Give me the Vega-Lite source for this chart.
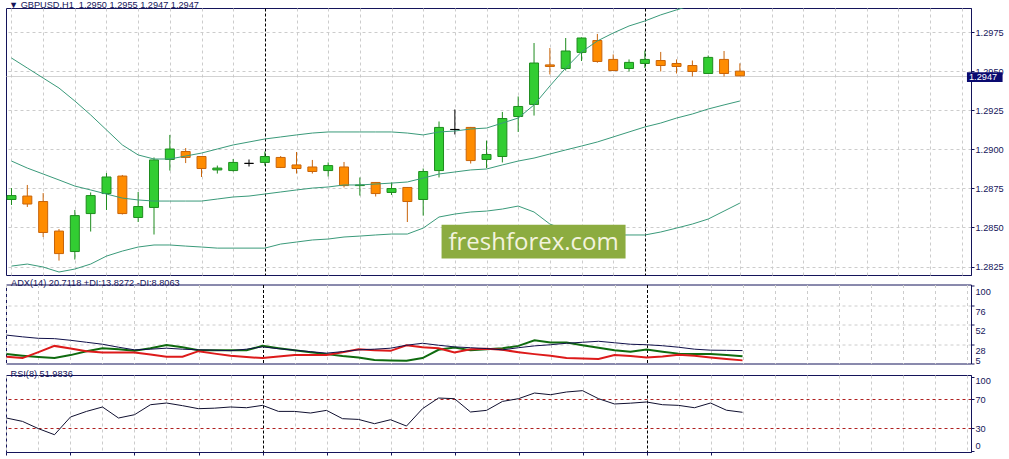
{
"$schema": "https://vega.github.io/schema/vega-lite/v6.json",
"padding": {"left": 5, "top": 0, "right": 0, "bottom": 0},
"background": "#ffffff",
"spacing": 2.5,
"resolve": {"scale": {"x": "independent", "y": "independent"}},
"config": {
  "font": "Liberation Sans",
  "view": {"stroke": "#14145a", "strokeWidth": 1},
  "axis": {"labelFont": "Liberation Sans", "labelFontSize": 9.2, "labelColor": "#14145a", "tickColor": "#14145a", "domainColor": "#14145a", "tickSize": 3, "gridWidth": 1},
  "title": {"font": "Liberation Sans", "fontSize": 9.2, "fontWeight": "normal", "color": "#14145a", "anchor": "start", "baseline": "bottom", "offset": 0}
},
"datasets": {"bars": [
{"k":0,"t":"21 Jan 08:00","o":1.28679,"h":1.28752,"l":1.28644,"c":1.28704,"bu":1.29584,"bm":1.28925,"bl":1.28253,"adx":39.5,"pdi":16.4,"mdi":13.2,"rsi":44.2},
{"k":1,"t":"21 Jan 09:00","o":1.28701,"h":1.28772,"l":1.28631,"c":1.28650,"bu":1.29520,"bm":1.28880,"bl":1.28266,"adx":37.4,"pdi":14.4,"mdi":11.6,"rsi":39.6},
{"k":2,"t":"21 Jan 10:00","o":1.28666,"h":1.28720,"l":1.28439,"c":1.28468,"bu":1.29456,"bm":1.28842,"bl":1.28247,"adx":35.6,"pdi":12.8,"mdi":18.8,"rsi":29.7},
{"k":3,"t":"21 Jan 11:00","o":1.28477,"h":1.28490,"l":1.28288,"c":1.28333,"bu":1.29392,"bm":1.28804,"bl":1.28215,"adx":35.2,"pdi":11.6,"mdi":26.4,"rsi":21.5},
{"k":4,"t":"21 Jan 12:00","o":1.28346,"h":1.28612,"l":1.28295,"c":1.28576,"bu":1.29309,"bm":1.28765,"bl":1.28234,"adx":33.2,"pdi":15.2,"mdi":23.2,"rsi":45.6},
{"k":5,"t":"21 Jan 13:00","o":1.28589,"h":1.28724,"l":1.28474,"c":1.28704,"bu":1.29220,"bm":1.28740,"bl":1.28266,"adx":30.8,"pdi":20.0,"mdi":20.0,"rsi":53.2},
{"k":6,"t":"21 Jan 14:00","o":1.28717,"h":1.28848,"l":1.28612,"c":1.28823,"bu":1.29124,"bm":1.28714,"bl":1.28317,"adx":28.4,"pdi":23.6,"mdi":18.4,"rsi":59.2},
{"k":7,"t":"21 Jan 15:00","o":1.28829,"h":1.28836,"l":1.28583,"c":1.28589,"bu":1.29028,"bm":1.28688,"bl":1.28349,"adx":24.8,"pdi":22.4,"mdi":18.4,"rsi":44.2},
{"k":8,"t":"21 Jan 16:00","o":1.28564,"h":1.28727,"l":1.28535,"c":1.28634,"bu":1.28964,"bm":1.28676,"bl":1.28375,"adx":21.6,"pdi":20.4,"mdi":18.4,"rsi":48.7},
{"k":9,"t":"21 Jan 17:00","o":1.28628,"h":1.28948,"l":1.28455,"c":1.28932,"bu":1.28938,"bm":1.28669,"bl":1.28388,"adx":22.4,"pdi":23.6,"mdi":15.8,"rsi":62.3},
{"k":10,"t":"21 Jan 18:00","o":1.28935,"h":1.29092,"l":1.28864,"c":1.29002,"bu":1.28938,"bm":1.28669,"bl":1.28388,"adx":23.6,"pdi":27.6,"mdi":13.2,"rsi":64.6},
{"k":11,"t":"21 Jan 19:00","o":1.28986,"h":1.29008,"l":1.28912,"c":1.28948,"bu":1.28957,"bm":1.28669,"bl":1.28381,"adx":22.4,"pdi":24.8,"mdi":13.2,"rsi":61.0},
{"k":12,"t":"21 Jan 20:00","o":1.28954,"h":1.28957,"l":1.28823,"c":1.28877,"bu":1.28976,"bm":1.28669,"bl":1.28375,"adx":21.6,"pdi":21.2,"mdi":20.0,"rsi":56.9},
{"k":13,"t":"21 Jan 21:00","o":1.28868,"h":1.28896,"l":1.28845,"c":1.28880,"bu":1.29002,"bm":1.28682,"bl":1.28368,"adx":21.2,"pdi":21.2,"mdi":17.0,"rsi":57.6},
{"k":14,"t":"21 Jan 22:00","o":1.28864,"h":1.28938,"l":1.28858,"c":1.28916,"bu":1.29028,"bm":1.28695,"bl":1.28368,"adx":20.6,"pdi":21.2,"mdi":14.4,"rsi":59.2},
{"k":15,"t":"21 Jan 23:00","o":1.28910,"h":1.28935,"l":1.28890,"c":1.28910,"bu":1.29047,"bm":1.28701,"bl":1.28368,"adx":22.4,"pdi":21.2,"mdi":12.8,"rsi":58.2},
{"k":16,"t":"22 Jan 00:00","o":1.28916,"h":1.28986,"l":1.28896,"c":1.28954,"bu":1.29066,"bm":1.28714,"bl":1.28368,"adx":25.2,"pdi":26.4,"mdi":11.6,"rsi":61.4},
{"k":17,"t":"22 Jan 01:00","o":1.28948,"h":1.28957,"l":1.28880,"c":1.28884,"bu":1.29079,"bm":1.28727,"bl":1.28394,"adx":23.0,"pdi":23.6,"mdi":13.4,"rsi":53.2},
{"k":18,"t":"22 Jan 02:00","o":1.28900,"h":1.28983,"l":1.28845,"c":1.28877,"bu":1.29092,"bm":1.28740,"bl":1.28407,"adx":21.2,"pdi":21.2,"mdi":15.2,"rsi":53.2},
{"k":19,"t":"22 Jan 03:00","o":1.28887,"h":1.28932,"l":1.28845,"c":1.28858,"bu":1.29104,"bm":1.28752,"bl":1.28420,"adx":19.4,"pdi":18.8,"mdi":15.2,"rsi":51.0},
{"k":20,"t":"22 Jan 04:00","o":1.28864,"h":1.28916,"l":1.28826,"c":1.28896,"bu":1.29111,"bm":1.28759,"bl":1.28426,"adx":17.6,"pdi":16.4,"mdi":15.2,"rsi":54.6},
{"k":21,"t":"22 Jan 05:00","o":1.28887,"h":1.28919,"l":1.28756,"c":1.28768,"bu":1.29111,"bm":1.28772,"bl":1.28439,"adx":19.4,"pdi":14.0,"mdi":18.8,"rsi":43.3},
{"k":22,"t":"22 Jan 06:00","o":1.28768,"h":1.28820,"l":1.28704,"c":1.28772,"bu":1.29111,"bm":1.28772,"bl":1.28445,"adx":21.6,"pdi":12.2,"mdi":22.4,"rsi":42.3},
{"k":23,"t":"22 Jan 07:00","o":1.28788,"h":1.28791,"l":1.28698,"c":1.28717,"bu":1.29111,"bm":1.28778,"bl":1.28452,"adx":22.4,"pdi":9.2,"mdi":21.2,"rsi":36.5},
{"k":24,"t":"22 Jan 08:00","o":1.28724,"h":1.28788,"l":1.28708,"c":1.28749,"bu":1.29111,"bm":1.28784,"bl":1.28458,"adx":23.6,"pdi":8.6,"mdi":20.4,"rsi":41.9},
{"k":25,"t":"22 Jan 09:00","o":1.28756,"h":1.28759,"l":1.28535,"c":1.28666,"bu":1.29104,"bm":1.28791,"bl":1.28458,"adx":27.2,"pdi":8.4,"mdi":27.2,"rsi":33.3},
{"k":26,"t":"22 Jan 10:00","o":1.28679,"h":1.28877,"l":1.28576,"c":1.28858,"bu":1.29092,"bm":1.28816,"bl":1.28496,"adx":29.6,"pdi":11.6,"mdi":24.8,"rsi":56.9},
{"k":27,"t":"22 Jan 11:00","o":1.28864,"h":1.29178,"l":1.28820,"c":1.29140,"bu":1.29111,"bm":1.28842,"bl":1.28567,"adx":27.2,"pdi":21.6,"mdi":23.6,"rsi":71.4},
{"k":28,"t":"22 Jan 12:00","o":1.29127,"h":1.29255,"l":1.29095,"c":1.29127,"bu":1.29117,"bm":1.28855,"bl":1.28586,"adx":25.2,"pdi":24.4,"mdi":18.4,"rsi":70.5},
{"k":29,"t":"22 Jan 13:00","o":1.29140,"h":1.29143,"l":1.28909,"c":1.28928,"bu":1.29130,"bm":1.28868,"bl":1.28599,"adx":24.2,"pdi":21.2,"mdi":22.4,"rsi":52.4},
{"k":30,"t":"22 Jan 14:00","o":1.28935,"h":1.29056,"l":1.28880,"c":1.28967,"bu":1.29136,"bm":1.28874,"bl":1.28605,"adx":23.2,"pdi":22.4,"mdi":23.0,"rsi":54.6},
{"k":31,"t":"22 Jan 15:00","o":1.28954,"h":1.29239,"l":1.28916,"c":1.29197,"bu":1.29168,"bm":1.28900,"bl":1.28618,"adx":21.6,"pdi":23.6,"mdi":21.6,"rsi":66.8},
{"k":32,"t":"22 Jan 16:00","o":1.29210,"h":1.29338,"l":1.29111,"c":1.29274,"bu":1.29200,"bm":1.28925,"bl":1.28637,"adx":24.2,"pdi":26.4,"mdi":18.8,"rsi":70.5},
{"k":33,"t":"22 Jan 17:00","o":1.29287,"h":1.29680,"l":1.29216,"c":1.29552,"bu":1.29284,"bm":1.28944,"bl":1.28599,"adx":26.4,"pdi":33.2,"mdi":16.4,"rsi":78.2},
{"k":34,"t":"22 Jan 18:00","o":1.29540,"h":1.29648,"l":1.29479,"c":1.29530,"bu":1.29405,"bm":1.28970,"bl":1.28522,"adx":27.8,"pdi":30.4,"mdi":14.4,"rsi":75.9},
{"k":35,"t":"22 Jan 19:00","o":1.29517,"h":1.29712,"l":1.29504,"c":1.29629,"bu":1.29520,"bm":1.28996,"bl":1.28484,"adx":29.6,"pdi":30.4,"mdi":11.6,"rsi":79.6},
{"k":36,"t":"22 Jan 20:00","o":1.29620,"h":1.29716,"l":1.29565,"c":1.29712,"bu":1.29623,"bm":1.29021,"bl":1.28458,"adx":30.8,"pdi":27.2,"mdi":11.0,"rsi":81.4},
{"k":37,"t":"22 Jan 21:00","o":1.29696,"h":1.29738,"l":1.29554,"c":1.29562,"bu":1.29693,"bm":1.29047,"bl":1.28452,"adx":32.0,"pdi":24.2,"mdi":10.4,"rsi":70.5},
{"k":38,"t":"22 Jan 22:00","o":1.29575,"h":1.29607,"l":1.29504,"c":1.29504,"bu":1.29744,"bm":1.29079,"bl":1.28452,"adx":30.2,"pdi":21.2,"mdi":15.2,"rsi":63.3},
{"k":39,"t":"22 Jan 23:00","o":1.29517,"h":1.29575,"l":1.29498,"c":1.29556,"bu":1.29789,"bm":1.29111,"bl":1.28452,"adx":28.4,"pdi":19.2,"mdi":14.0,"rsi":64.4},
{"k":40,"t":"23 Jan 00:00","o":1.29549,"h":1.29632,"l":1.29520,"c":1.29575,"bu":1.29821,"bm":1.29143,"bl":1.28452,"adx":27.8,"pdi":22.0,"mdi":12.4,"rsi":66.0},
{"k":41,"t":"23 Jan 01:00","o":1.29568,"h":1.29623,"l":1.29498,"c":1.29536,"bu":1.29860,"bm":1.29168,"bl":1.28471,"adx":26.6,"pdi":19.4,"mdi":13.4,"rsi":62.3},
{"k":42,"t":"23 Jan 02:00","o":1.29549,"h":1.29575,"l":1.29485,"c":1.29530,"bu":1.29892,"bm":1.29200,"bl":1.28496,"adx":24.8,"pdi":17.0,"mdi":15.6,"rsi":61.4},
{"k":43,"t":"23 Jan 03:00","o":1.29536,"h":1.29568,"l":1.29466,"c":1.29498,"bu":1.29924,"bm":1.29226,"bl":1.28522,"adx":22.4,"pdi":16.4,"mdi":14.4,"rsi":58.2},
{"k":44,"t":"23 Jan 04:00","o":1.29485,"h":1.29600,"l":1.29485,"c":1.29588,"bu":1.29956,"bm":1.29258,"bl":1.28554,"adx":21.2,"pdi":16.4,"mdi":12.4,"rsi":64.6},
{"k":45,"t":"23 Jan 05:00","o":1.29575,"h":1.29629,"l":1.29466,"c":1.29485,"bu":1.29981,"bm":1.29284,"bl":1.28605,"adx":21.0,"pdi":15.2,"mdi":10.5,"rsi":54.8},
{"k":46,"t":"23 Jan 06:00","o":1.2950,"h":1.2955,"l":1.2947,"c":1.2947,"bu":1.30007,"bm":1.29309,"bl":1.28656,"adx":20.7,"pdi":13.8,"mdi":8.8,"rsi":52.0}
]},
"vconcat": [
{
  "width": 965, "height": 267,
  "data": {"name": "bars"},
  "title": {"text": "▼ GBPUSD,H1\u00a0 1.2950 1.2955 1.2947 1.2947", "offset": 0, "dx": 3, "dy": 11, "baseline": "bottom"},
  "layer": [
    {"transform": [{"filter": "datum.c > datum.o"}],
     "mark": {"type": "rule", "color": "#1e8c1e", "strokeWidth": 1, "clip": true},
     "encoding": {
       "x": {"field": "k", "type": "quantitative", "title": null,
             "scale": {"domain": [-0.031, 60.28], "nice": false, "zero": false},
             "axis": {"orient": "bottom", "labels": false, "ticks": false, "domain": false, "grid": true, "tickCount": 100,
                      "values": [0,2,4,6,8,10,12,14,16,18,20,22,24,26,28,30,32,34,36,38,40,42,44,46,48,50,52,54,56,58,60],
                      "gridColor": {"condition": {"test": "(datum.value + 8) % 24 == 0", "value": "#000000"}, "value": "#cccccc"},
                      "gridDash": {"condition": {"test": "(datum.value + 8) % 24 == 0", "value": [3,2]}, "value": [3,3]}}},
       "y": {"field": "l", "type": "quantitative", "title": null,
             "scale": {"domain": [1.28196, 1.29904], "nice": false, "zero": false},
             "axis": {"orient": "right", "values": [1.2825, 1.285, 1.2875, 1.29, 1.2925, 1.2947, 1.295, 1.2975], "tickCount": 100, "format": ".4f", "grid": true,
                      "gridColor": {"condition": {"test": "datum.value == 1.2947", "value": "#c4c4c4"}, "value": "#cccccc"},
                      "gridDash": {"condition": {"test": "datum.value == 1.2947", "value": [1,0]}, "value": [3,3]},
                      "tickOpacity": {"condition": {"test": "datum.value == 1.2947", "value": 0}, "value": 1},
                      "labelOpacity": {"condition": {"test": "datum.value == 1.2947", "value": 0}, "value": 1},
                      "labelPadding": 1, "labelOverlap": false}},
       "y2": {"field": "h"}
     }},
    {"transform": [{"filter": "datum.c < datum.o"}],
     "mark": {"type": "rule", "color": "#c8640a", "strokeWidth": 1, "clip": true},
     "encoding": {"x": {"field": "k", "type": "quantitative", "title": null}, "y": {"field": "l", "type": "quantitative", "title": null}, "y2": {"field": "h"}}},
    {"transform": [{"filter": "datum.c == datum.o"}],
     "mark": {"type": "rule", "color": "#000000", "strokeWidth": 1, "clip": true},
     "encoding": {"x": {"field": "k", "type": "quantitative", "title": null}, "y": {"field": "l", "type": "quantitative", "title": null}, "y2": {"field": "h"}}},
    {"transform": [{"filter": "datum.c > datum.o"}],
     "mark": {"type": "bar", "size": 9, "fill": "#32cd32", "stroke": "#1e8c1e", "strokeWidth": 1, "clip": true},
     "encoding": {"x": {"field": "k", "type": "quantitative", "title": null}, "y": {"field": "o", "type": "quantitative", "title": null}, "y2": {"field": "c"}}},
    {"transform": [{"filter": "datum.c < datum.o"}],
     "mark": {"type": "bar", "size": 9, "fill": "#ff8c00", "stroke": "#c8640a", "strokeWidth": 1, "clip": true},
     "encoding": {"x": {"field": "k", "type": "quantitative", "title": null}, "y": {"field": "o", "type": "quantitative", "title": null}, "y2": {"field": "c"}}},
    {"transform": [{"filter": "datum.c == datum.o"}],
     "mark": {"type": "bar", "size": 9, "fill": "#000000", "stroke": "#000000", "strokeWidth": 1, "clip": true},
     "encoding": {"x": {"field": "k", "type": "quantitative", "title": null}, "y": {"field": "o", "type": "quantitative", "title": null}, "y2": {"field": "c"}}},
    {"mark": {"type": "line", "color": "#3a9a7a", "strokeWidth": 1, "clip": true},
     "encoding": {"x": {"field": "k", "type": "quantitative", "title": null}, "y": {"field": "bu", "type": "quantitative", "title": null}}},
    {"mark": {"type": "line", "color": "#3a9a7a", "strokeWidth": 1, "clip": true},
     "encoding": {"x": {"field": "k", "type": "quantitative", "title": null}, "y": {"field": "bm", "type": "quantitative", "title": null}}},
    {"mark": {"type": "line", "color": "#3a9a7a", "strokeWidth": 1, "clip": true},
     "encoding": {"x": {"field": "k", "type": "quantitative", "title": null}, "y": {"field": "bl", "type": "quantitative", "title": null}}},
    {"data": {"values": [{"label": "freshforex.com"}]},
     "mark": {"type": "rect", "color": "#8cac40"},
     "encoding": {
       "x": {"datum": 27.16, "type": "quantitative", "title": null},
       "x2": {"datum": 38.78},
       "y": {"datum": 1.28517, "type": "quantitative", "title": null},
       "y2": {"datum": 1.28301}
     }},
    {"data": {"values": [{"label": "freshforex.com"}]},
     "mark": {"type": "text", "font": "Open Sans", "fontSize": 24, "align": "center", "baseline": "alphabetic", "color": "#f3f3de"},
     "encoding": {
       "x": {"datum": 32.97, "type": "quantitative", "title": null},
       "y": {"datum": 1.28359, "type": "quantitative", "title": null},
       "text": {"field": "label"}
     }},
    {"data": {"values": [{"price": "1.2947"}]},
     "mark": {"type": "rect", "color": "#0a0a70"},
     "encoding": {
       "x": {"datum": 60.34, "type": "quantitative", "title": null},
       "x2": {"datum": 62.59},
       "y": {"datum": 1.29493, "type": "quantitative", "title": null},
       "y2": {"datum": 1.29431}
     }},
    {"data": {"values": [{"price": "1.2947"}]},
     "mark": {"type": "text", "font": "Liberation Sans", "fontSize": 9.2, "align": "left", "baseline": "middle", "color": "#ffffff"},
     "encoding": {
       "x": {"datum": 60.47, "type": "quantitative", "title": null},
       "y": {"datum": 1.2946, "type": "quantitative", "title": null},
       "text": {"field": "price"}
     }}
  ]
},
{
  "width": 965, "height": 79,
  "data": {"name": "bars"},
  "title": {"text": "ADX(14) 20.7118 +DI:13.8272 -DI:8.8063", "offset": 0, "dx": 5, "dy": 13, "baseline": "bottom"},
  "layer": [
    {"mark": {"type": "line", "color": "#0f6b0f", "strokeWidth": 2, "clip": true},
     "encoding": {
       "x": {"field": "k", "type": "quantitative", "title": null,
             "scale": {"domain": [-0.031, 60.28], "nice": false, "zero": false},
             "axis": {"orient": "bottom", "labels": false, "ticks": false, "domain": false, "grid": true, "tickCount": 100,
                      "values": [0,2,4,6,8,10,12,14,16,18,20,22,24,26,28,30,32,34,36,38,40,42,44,46,48,50,52,54,56,58,60],
                      "gridColor": {"condition": {"test": "(datum.value + 8) % 24 == 0", "value": "#000000"}, "value": "#cccccc"},
                      "gridDash": {"condition": {"test": "(datum.value + 8) % 24 == 0", "value": [3,2]}, "value": [3,3]}}},
       "y": {"field": "pdi", "type": "quantitative", "title": null,
             "scale": {"domain": [5, 101], "nice": false, "zero": false},
             "axis": {"orient": "right", "values": [5, 28, 52, 76, 100], "tickCount": 100, "grid": true, "gridDash": [3,3], "gridColor": "#cccccc",
                      "gridOpacity": {"condition": {"test": "datum.value == 100 || datum.value == 5", "value": 0}, "value": 1},
                      "labelBaseline": {"condition": {"test": "datum.value == 5", "value": "bottom"}, "value": "top"},
                      "labelOffset": 2,
                      "labelPadding": 1, "labelOverlap": false}}
     }},
    {"mark": {"type": "line", "color": "#dd1a1a", "strokeWidth": 2, "clip": true},
     "encoding": {"x": {"field": "k", "type": "quantitative", "title": null}, "y": {"field": "mdi", "type": "quantitative", "title": null}}},
    {"mark": {"type": "line", "color": "#10104a", "strokeWidth": 1, "clip": true},
     "encoding": {"x": {"field": "k", "type": "quantitative", "title": null}, "y": {"field": "adx", "type": "quantitative", "title": null}}}
  ]
},
{
  "width": 965, "height": 77,
  "data": {"name": "bars"},
  "title": {"text": "RSI(8) 51.9836", "offset": 0, "dx": 5, "dy": 13, "baseline": "bottom"},
  "layer": [
    {"mark": {"type": "line", "color": "#101030", "strokeWidth": 1, "clip": true},
     "encoding": {
       "x": {"field": "k", "type": "quantitative", "title": null,
             "scale": {"domain": [-0.031, 60.28], "nice": false, "zero": false},
             "axis": {"orient": "bottom", "domain": false, "grid": true, "tickCount": 100,
                      "values": [0,2,4,6,8,10,12,14,16,18,20,22,24,26,28,30,32,34,36,38,40,42,44,46,48,50,52,54,56,58,60],
                      "gridColor": {"condition": {"test": "(datum.value + 8) % 24 == 0", "value": "#000000"}, "value": "#cccccc"},
                      "gridDash": {"condition": {"test": "(datum.value + 8) % 24 == 0", "value": [3,2]}, "value": [3,3]},
                      "tickOpacity": {"condition": {"test": "datum.value % 4 != 0 || datum.value > 44", "value": 0}, "value": 1},
                      "labelExpr": "(datum.value % 4 != 0 || datum.value > 44) ? '' : (datum.value == 0 ? '21 Jan 2019' : (21 + floor((datum.value + 8) / 24)) + ' Jan ' + (((datum.value + 8) % 24) < 10 ? '0' : '') + ((datum.value + 8) % 24) + ':00')",
                      "labelAlign": "left", "labelFlush": false, "labelOverlap": false, "labelPadding": 3}},
       "y": {"field": "rsi", "type": "quantitative", "title": null,
             "scale": {"domain": [-2, 102.7], "nice": false, "zero": false},
             "axis": {"orient": "right", "values": [0, 30, 70, 100], "tickCount": 100, "grid": true, "gridDash": [3,3], "gridColor": "#b02020",
                      "gridOpacity": {"condition": {"test": "datum.value == 100 || datum.value == 0", "value": 0}, "value": 1},
                      "labelFlush": 3, "labelPadding": 1, "labelOverlap": false}}
     }}
  ]
},
{
  "width": 1004, "height": 13,
  "data": {"values": [
    {"tab": "EURUSD,H1", "active": false},
    {"tab": "GBPUSD,H1", "active": true},
    {"tab": "USDJPY,H1", "active": false},
    {"tab": "EURUSD,Daily", "active": false},
    {"tab": "GBPUSD,Daily", "active": false},
    {"tab": "USDJPY,Daily", "active": false},
    {"tab": "XAUUSD,Daily", "active": false},
    {"tab": "#BRENT,Daily", "active": false},
    {"tab": "#SP500,Daily", "active": false},
    {"tab": "#NIKKEI,Daily", "active": false},
    {"tab": "#DAX30,Daily", "active": false}
  ]},
  "layer": [
    {"mark": {"type": "bar", "stroke": "#7a7a7a", "strokeWidth": 1},
     "encoding": {
       "x": {"field": "tab", "type": "nominal", "sort": null, "axis": null, "scale": {"paddingInner": 0, "paddingOuter": 0}},
       "color": {"condition": {"test": "datum.active", "value": "#ffffff"}, "value": "#ececec"}
     }},
    {"mark": {"type": "text", "baseline": "top", "dy": 1, "font": "Liberation Sans", "fontSize": 10.5},
     "encoding": {
       "x": {"field": "tab", "type": "nominal", "sort": null, "axis": null},
       "text": {"field": "tab"},
       "color": {"condition": {"test": "datum.active", "value": "#000000"}, "value": "#6a6a6a"}
     }}
  ]
}
]
}
